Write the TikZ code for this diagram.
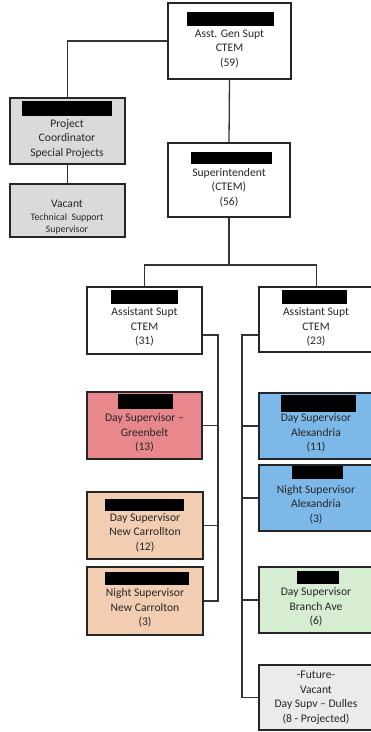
\documentclass[tikz,border=0pt]{standalone}
\usepackage{fontspec}
\setmainfont{Carlito}
\definecolor{ink}{HTML}{262626}
\definecolor{grayA}{HTML}{DADADA}
\definecolor{grayB}{HTML}{EBEBEB}
\definecolor{pinkA}{HTML}{E8878C}
\definecolor{peachA}{HTML}{F2CDB1}
\definecolor{blueA}{HTML}{7DB9E8}
\definecolor{greenA}{HTML}{D6EDD2}
\begin{document}
\begin{tikzpicture}[x=1pt,y=-1pt,
  box/.style={draw=black!85, line width=1.4pt, inner sep=0pt, minimum width=115pt, minimum height=66pt},
  lbl/.style={text=ink, align=center, font=\fontsize{11.6}{14.5}\selectfont, inner sep=0pt},
  small/.style={text=ink, align=center, font=\fontsize{9.8}{12}\selectfont, inner sep=0pt},
  wire/.style={draw=black!80, line width=1.3pt}]
\fill[white] (0,0) rectangle (371,732);
\useasboundingbox (0,0) rectangle (371,732);

% boxes
\node[box, fill=white, minimum width=123pt, minimum height=76pt] (top) at (229.5,41) {};
\node[box, fill=grayA] (proj) at (67.5,131) {};
\node[box, fill=grayA, minimum height=53pt] (vac) at (67.5,210.5) {};
\node[box, fill=white, minimum width=122pt, minimum height=74pt] (sup) at (229,180) {};
\node[box, fill=white, minimum height=67pt] (asL) at (144.5,320.5) {};
\node[box, fill=white, minimum height=65pt] (asR) at (316.5,319.5) {};
\node[box, fill=pinkA, minimum height=67pt] (green) at (144.5,425.5) {};
\node[box, fill=peachA, minimum width=116pt, minimum height=67pt] (dayNC) at (145,525.5) {};
\node[box, fill=peachA, minimum width=116pt, minimum height=68pt] (nightNC) at (145,601) {};
\node[box, fill=blueA] (alexD) at (316.5,426) {};
\node[box, fill=blueA] (alexN) at (316.5,498) {};
\node[box, fill=greenA] (branch) at (316.5,600) {};
\node[box, fill=grayB, minimum height=65pt] (dulles) at (316.5,697.5) {};

% redaction bars
\fill[black] (187,12) rectangle (274,26);
\fill[black] (22,101) rectangle (112,116);
\fill[black] (191,152) rectangle (272,164);
\fill[black] (111,290) rectangle (178,304);
\fill[black] (282,290) rectangle (347,304);
\fill[black] (118,394) rectangle (173,409);
\fill[black] (105,499) rectangle (184,511);
\fill[black] (105,572) rectangle (189,585);
\fill[black] (281,395) rectangle (356,412);
\fill[black] (292,466) rectangle (343,479);
\fill[black] (297,571) rectangle (339,584);

% texts
\node[lbl] (topT) at (229.5,49) {Asst. Gen Supt\\CTEM\\(59)};
\node[lbl] (projT) at (67,138.5) {Project\\Coordinator\\Special Projects};
\node[lbl] (vacT) at (67,204) {Vacant};
\node[small] (vacT2) at (67,224) {Technical\ \ Support\\Supervisor};
\node[lbl] (supT) at (229,187.5) {Superintendent\\(CTEM)\\(56)};
\node[lbl] (asLT) at (144.5,327) {Assistant Supt\\CTEM\\(31)};
\node[lbl] (asRT) at (316,327) {Assistant Supt\\CTEM\\(23)};
\node[lbl] (greenT) at (144.5,433) {Day Supervisor --\\Greenbelt\\(13)};
\node[lbl] (dayNCT) at (145,532.5) {Day Supervisor\\New Carrollton\\(12)};
\node[lbl] (nightNCT) at (145,608) {Night Supervisor\\New Carrolton\\(3)};
\node[lbl] (alexDT) at (316,433) {Day Supervisor\\Alexandria\\(11)};
\node[lbl] (alexNT) at (316,504.5) {Night Supervisor\\Alexandria\\(3)};
\node[lbl] (branchT) at (316,607) {Day Supervisor\\Branch Ave\\(6)};
\node[lbl] (dullesT) at (316,698) {-Future-\\Vacant\\Day Supv -- Dulles\\(8 - Projected)};

% connectors
\coordinate (j) at (229,265);
\coordinate (lsTop) at (218,335);
\coordinate (rsTop) at (242,335);
\draw[wire] (top.west) -| (proj.north);
\draw[wire] (proj.south) -- (vac.north);
\draw[wire] (top.south) -- (sup.north);
\draw[wire] (sup.south) -- (j);
\draw[wire] (asL.north) |- (j) -| (asR.north);
\draw[wire] (asL.east |- lsTop) -- (lsTop) -- (lsTop |- nightNC.east) -- (nightNC.east);
\draw[wire] (green.east) -- (green.east -| lsTop);
\draw[wire] (dayNC.east) -- (dayNC.east -| lsTop);
\draw[wire] (asR.west |- rsTop) -- (rsTop) -- (rsTop |- dulles.west) -- (dulles.west);
\draw[wire] (alexD.west) -- (alexD.west -| rsTop);
\draw[wire] (alexN.west) -- (alexN.west -| rsTop);
\draw[wire] (branch.west) -- (branch.west -| rsTop);
\end{tikzpicture}
\end{document}
